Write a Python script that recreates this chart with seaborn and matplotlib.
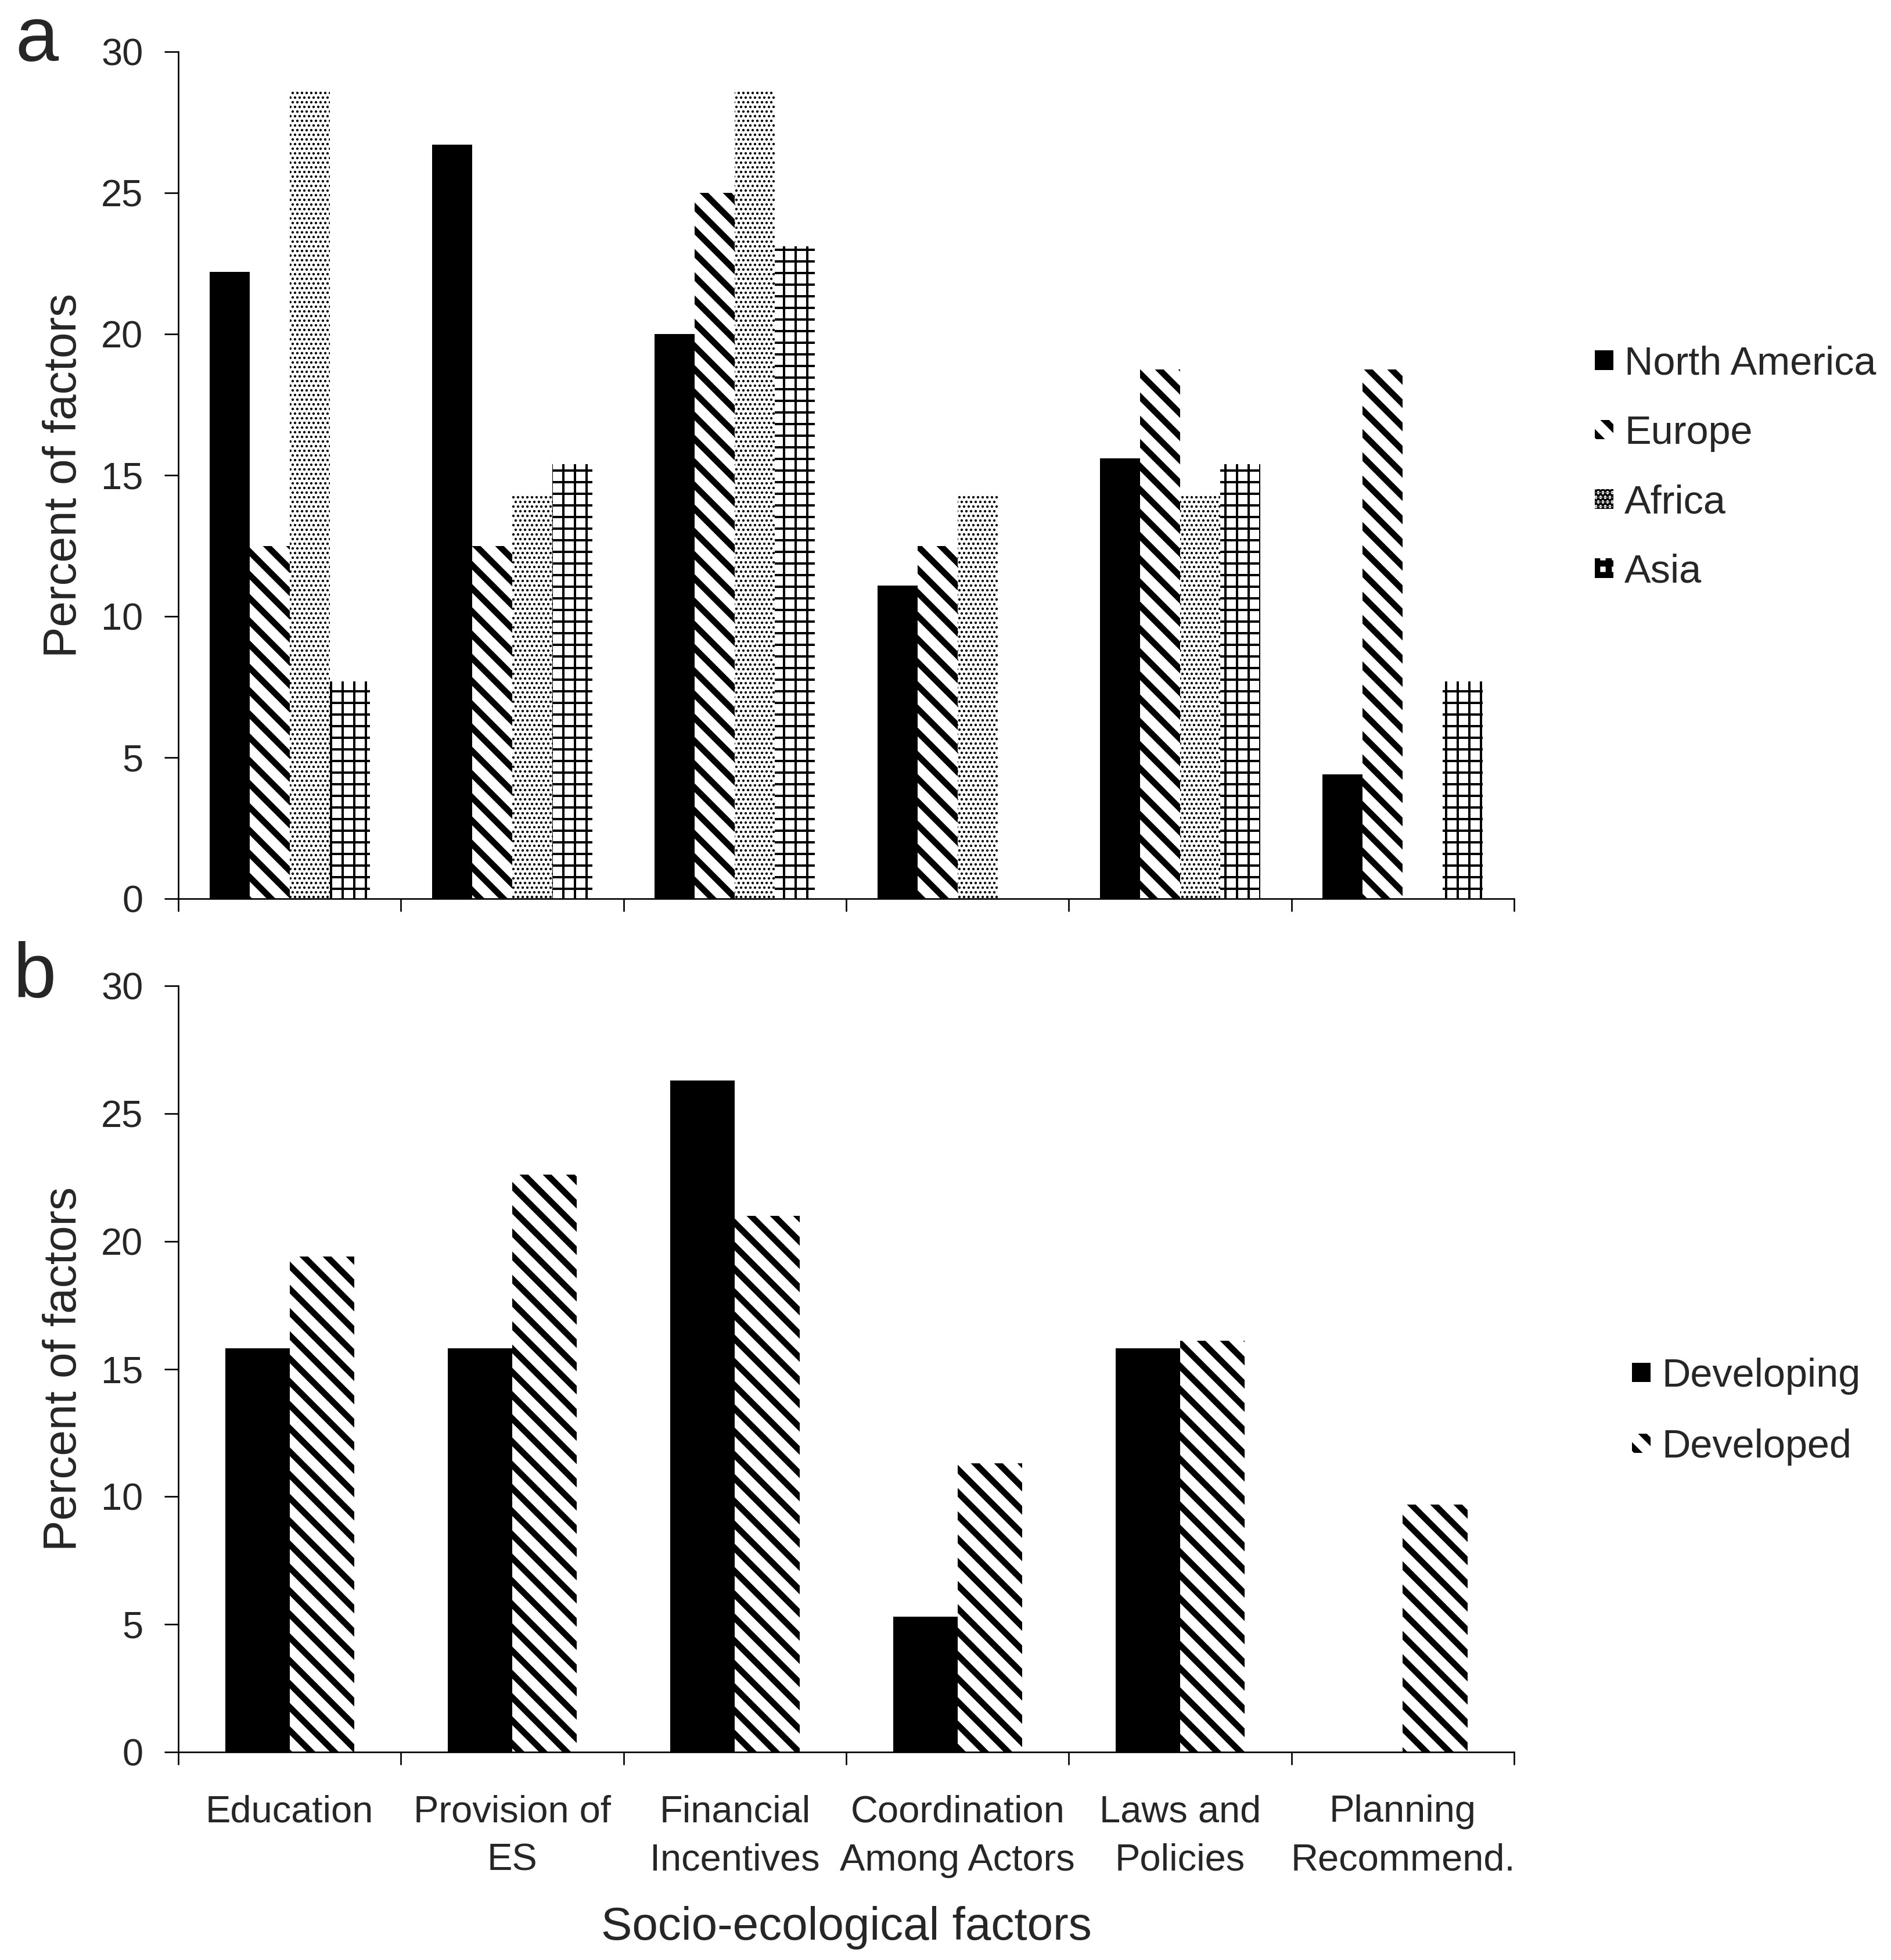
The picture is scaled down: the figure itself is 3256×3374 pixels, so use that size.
import numpy as np
import pandas as pd
import matplotlib
matplotlib.use("Agg")
import matplotlib.pyplot as plt
import matplotlib.patches as mpatches
import seaborn as sns

# ==================================================
# Data
# ==================================================

factors = [
    "Education",
    "Provision of\nES",
    "Financial\nIncentives",
    "Coordination\nAmong Actors",
    "Laws and\nPolicies",
    "Planning\nRecommend.",
]

regions = ["North America", "Europe", "Africa", "Asia"]
north_america = [22.2, 26.7, 20.0, 11.1, 15.6, 4.4]
europe = [12.5, 12.5, 25.0, 12.5, 18.75, 18.75]
africa = [28.6, 14.3, 28.6, 14.3, 14.3, 0.0]
asia = [7.7, 15.4, 23.1, 0.0, 15.4, 7.7]

economies = ["Developing", "Developed"]
developing = [15.8, 15.8, 26.3, 5.3, 15.8, 0.0]
developed = [19.4, 22.6, 21.0, 11.3, 16.1, 9.7]

y_ticks = [0, 5, 10, 15, 20, 25, 30]


def long_table(names, series):
    rows = []
    for name, vals in zip(names, series):
        for f, v in zip(factors, vals):
            rows.append({"factor": f, "group": name, "percent": v})
    return pd.DataFrame(rows)


df_a = long_table(regions, [north_america, europe, africa, asia])
df_b = long_table(economies, [developing, developed])

# ==================================================
# Style
# ==================================================

sns.set_theme(style="ticks")
plt.rcParams["font.family"] = ["Liberation Sans", "DejaVu Sans"]
plt.rcParams["hatch.linewidth"] = 3.2

DPI = 240
fig = plt.figure(figsize=(3256 / DPI, 3374 / DPI), dpi=DPI)
ax_a = fig.add_axes([0.0943, 0.5415, 0.7064, 0.4321])
ax_b = fig.add_axes([0.0943, 0.1061, 0.7064, 0.3909])


def style_hatch(patch, hatch, lw):
    patch.set_hatch(hatch)
    patch.set_edgecolor("black")
    patch.set_linewidth(0)
    if hasattr(patch, "set_hatch_linewidth"):
        patch.set_hatch_linewidth(lw)


def draw_panel(ax, df, names, colors, hatches, hatch_lws, width, show_labels):
    sns.barplot(
        data=df, x="factor", y="percent", hue="group",
        order=factors, hue_order=names, palette=colors,
        width=width, saturation=1, linewidth=0, edgecolor="black",
        errorbar=None, legend=False, ax=ax,
    )
    for cont, h, lw in zip(ax.containers, hatches, hatch_lws):
        for bar in cont:
            style_hatch(bar, h, lw)

    ax.set_xlim(-0.5, 5.5)
    ax.set_ylim(0, 30)
    ax.set_yticks(y_ticks)
    ax.set_xticks(range(len(factors)))
    ax.set_xticks(np.arange(-0.5, len(factors), 1), minor=True)
    if show_labels:
        ax.set_xticklabels(factors, linespacing=1.5, ha="center")
    else:
        ax.set_xticklabels([])
    ax.tick_params(axis="x", which="major", length=0, pad=22, labelsize=19.5)
    ax.tick_params(axis="x", which="minor", length=6.6, width=0.8,
                   direction="out", color="black")
    ax.tick_params(axis="y", length=7.2, width=0.8, pad=11,
                   labelsize=19.5, color="black")
    sns.despine(ax=ax)
    for s in ["left", "bottom"]:
        ax.spines[s].set_color("black")
        ax.spines[s].set_linewidth(0.8)
    ax.set_ylabel("Percent of factors", fontsize=24)
    ax.yaxis.set_label_coords(-0.069, 0.5)
    if show_labels:
        ax.set_xlabel("Socio-ecological factors", fontsize=24)
        ax.xaxis.set_label_coords(0.5, -0.201)
    else:
        ax.set_xlabel("")


def add_legend(names, colors, hatches, hatch_lws, anchor, spacing):
    handles = []
    for n, c, h, lw in zip(names, colors, hatches, hatch_lws):
        p = mpatches.Patch(facecolor=c, label=n)
        style_hatch(p, h, lw)
        handles.append(p)
    fig.legend(
        handles=handles, loc="center left", bbox_to_anchor=anchor,
        frameon=False, fontsize=20.5, handlelength=0.47, handleheight=0.38,
        handletextpad=0.28, labelspacing=spacing, borderpad=0, borderaxespad=0,
    )


colors_a = ["black", "white", "white", "white"]
hatches_a = [None, "\\\\", ".....", "++"]
lws_a = [1.0, 3.2, 0.8, 1.2]

colors_b = ["black", "white"]
hatches_b = [None, "\\\\"]
lws_b = [1.0, 3.2]

draw_panel(ax_a, df_a, regions, colors_a, hatches_a, lws_a, 0.72, False)
draw_panel(ax_b, df_b, economies, colors_b, hatches_b, lws_b, 0.58, True)

add_legend(regions, colors_a, hatches_a, lws_a, (0.8433, 0.7612), 0.81)
add_legend(economies, colors_b, hatches_b, lws_b, (0.863, 0.2798), 0.85)

fig.text(0.008, 0.9689, "a", fontsize=40, va="baseline", ha="left")
fig.text(0.007, 0.491, "b", fontsize=40, va="baseline", ha="left")

fig.savefig("out.png", dpi=DPI, facecolor="white")
print("saved out.png")
